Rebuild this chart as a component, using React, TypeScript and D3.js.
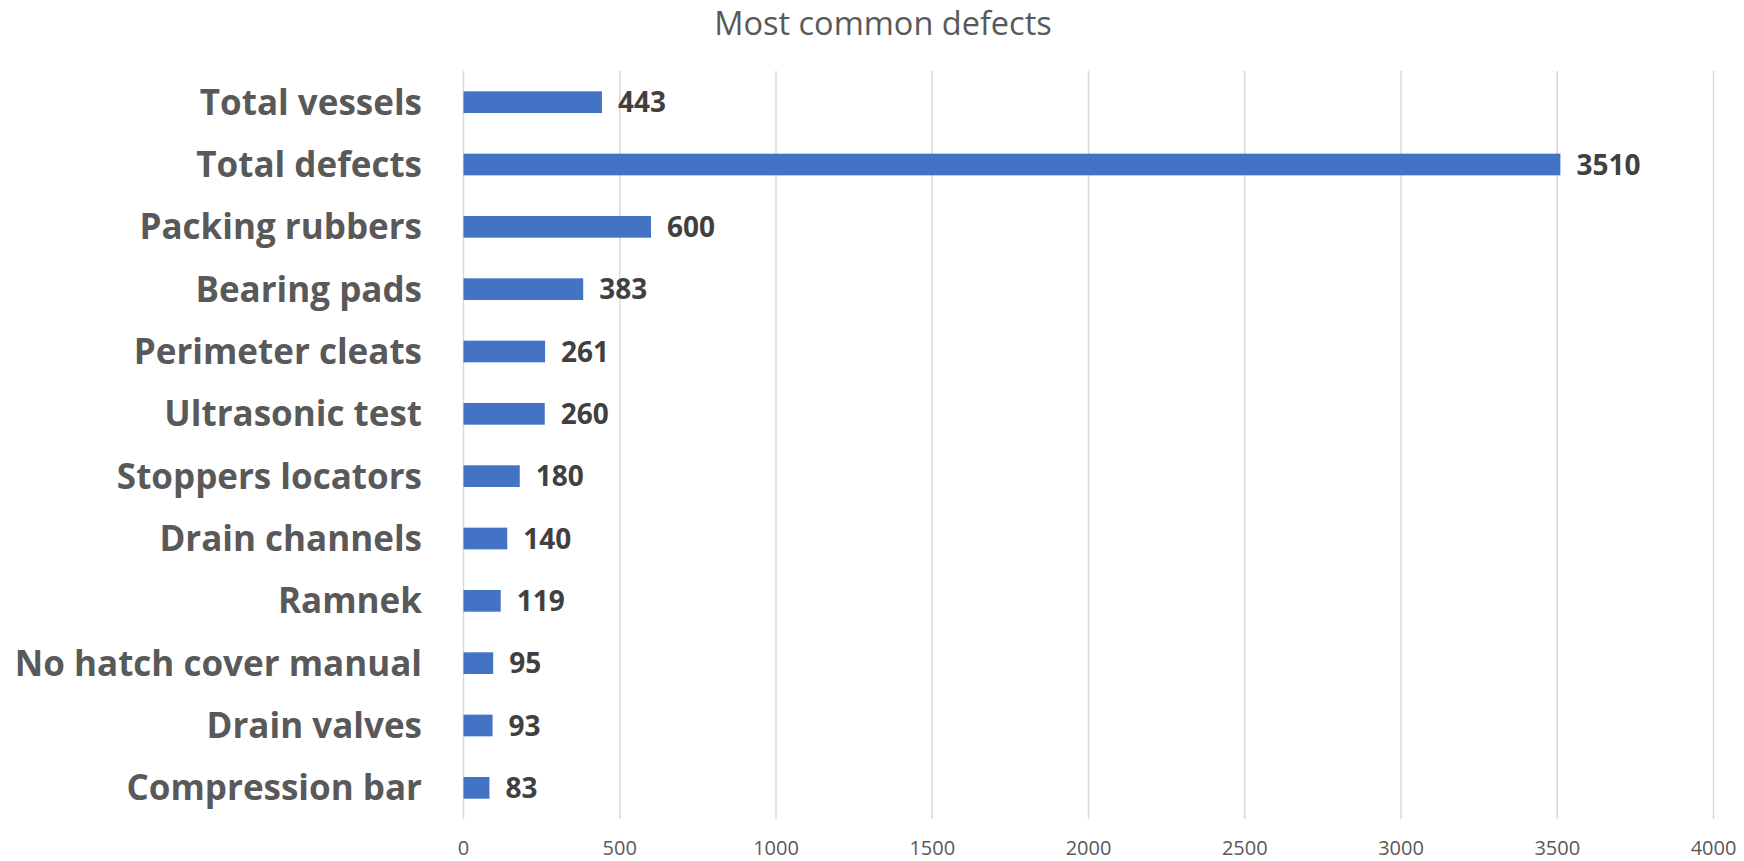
import * as d3 from "d3"
import { useEffect, useRef } from "react"

const categories = [
  "Total vessels",
  "Total defects",
  "Packing rubbers",
  "Bearing pads",
  "Perimeter cleats",
  "Ultrasonic test",
  "Stoppers locators",
  "Drain channels",
  "Ramnek",
  "No hatch cover manual",
  "Drain valves",
  "Compression bar",
]

const counts = [443, 3510, 600, 383, 261, 260, 180, 140, 119, 95, 93, 83]

const xTicks = [0, 500, 1000, 1500, 2000, 2500, 3000, 3500, 4000]

const title = "Most common defects"

const App = () => {
  const svgRef = useRef<SVGSVGElement | null>(null)

  useEffect(() => {
    if (!svgRef.current) return
    const svg = d3.select(svgRef.current)
    svg.selectAll("*").remove()

    const W = 1744
    const H = 861
    const margin = { top: 71, right: 30.5, bottom: 42, left: 463.5 }
    const width = W - margin.left - margin.right
    const height = H - margin.top - margin.bottom
    const font = "'Open Sans', sans-serif"

    const data = categories.map((c, i) => ({ category: c, value: counts[i] }))

    const x = d3.scaleLinear().domain([0, 4000]).range([0, width])
    const y = d3
      .scaleBand()
      .domain(categories)
      .range([0, height])
      .paddingInner(0.652)
      .paddingOuter(0.326)

    svg.attr("width", W).attr("height", H).style("background", "#fff")

    // Title
    svg
      .append("text")
      .attr("x", 883)
      .attr("y", 35)
      .attr("text-anchor", "middle")
      .style("font", `400 32.5px ${font}`)
      .attr("fill", "#595959")
      .text(title)

    const chart = svg
      .append("g")
      .attr("transform", `translate(${margin.left},${margin.top})`)

    // Gridlines
    chart
      .selectAll(".grid")
      .data(xTicks)
      .enter()
      .append("line")
      .attr("class", "grid")
      .attr("x1", (d) => x(d))
      .attr("x2", (d) => x(d))
      .attr("y1", 0)
      .attr("y2", height)
      .attr("stroke", "#d9d9d9")
      .attr("stroke-width", 1.5)

    // X tick labels
    chart
      .selectAll(".xtick")
      .data(xTicks)
      .enter()
      .append("text")
      .attr("class", "xtick")
      .attr("x", (d) => x(d))
      .attr("y", height + 36)
      .attr("text-anchor", "middle")
      .style("font", `400 20px ${font}`)
      .attr("fill", "#595959")
      .text((d) => d)

    // Bars
    chart
      .selectAll(".bar")
      .data(data)
      .enter()
      .append("rect")
      .attr("class", "bar")
      .attr("x", x(0))
      .attr("y", (d) => y(d.category)!)
      .attr("width", (d) => x(d.value) - x(0))
      .attr("height", y.bandwidth())
      .attr("fill", "#4472c4")

    // Value labels
    chart
      .selectAll(".value")
      .data(data)
      .enter()
      .append("text")
      .attr("class", "value")
      .attr("x", (d) => x(d.value) + 16)
      .attr("y", (d) => y(d.category)! + y.bandwidth() / 2)
      .attr("dy", "0.36em")
      .style("font", `700 28px ${font}`)
      .attr("fill", "#404040")
      .text((d) => d.value)

    // Category labels
    chart
      .selectAll(".cat")
      .data(data)
      .enter()
      .append("text")
      .attr("class", "cat")
      .attr("x", -41.5)
      .attr("y", (d) => y(d.category)! + y.bandwidth() / 2)
      .attr("dy", "0.36em")
      .attr("text-anchor", "end")
      .style("font", `700 35px ${font}`)
      .attr("fill", "#595959")
      .text((d) => d.category)
  }, [])

  return (
    <svg
      ref={svgRef}
      style={{ position: "absolute", left: 0, top: 0, display: "block" }}
    />
  )
}

export default App
